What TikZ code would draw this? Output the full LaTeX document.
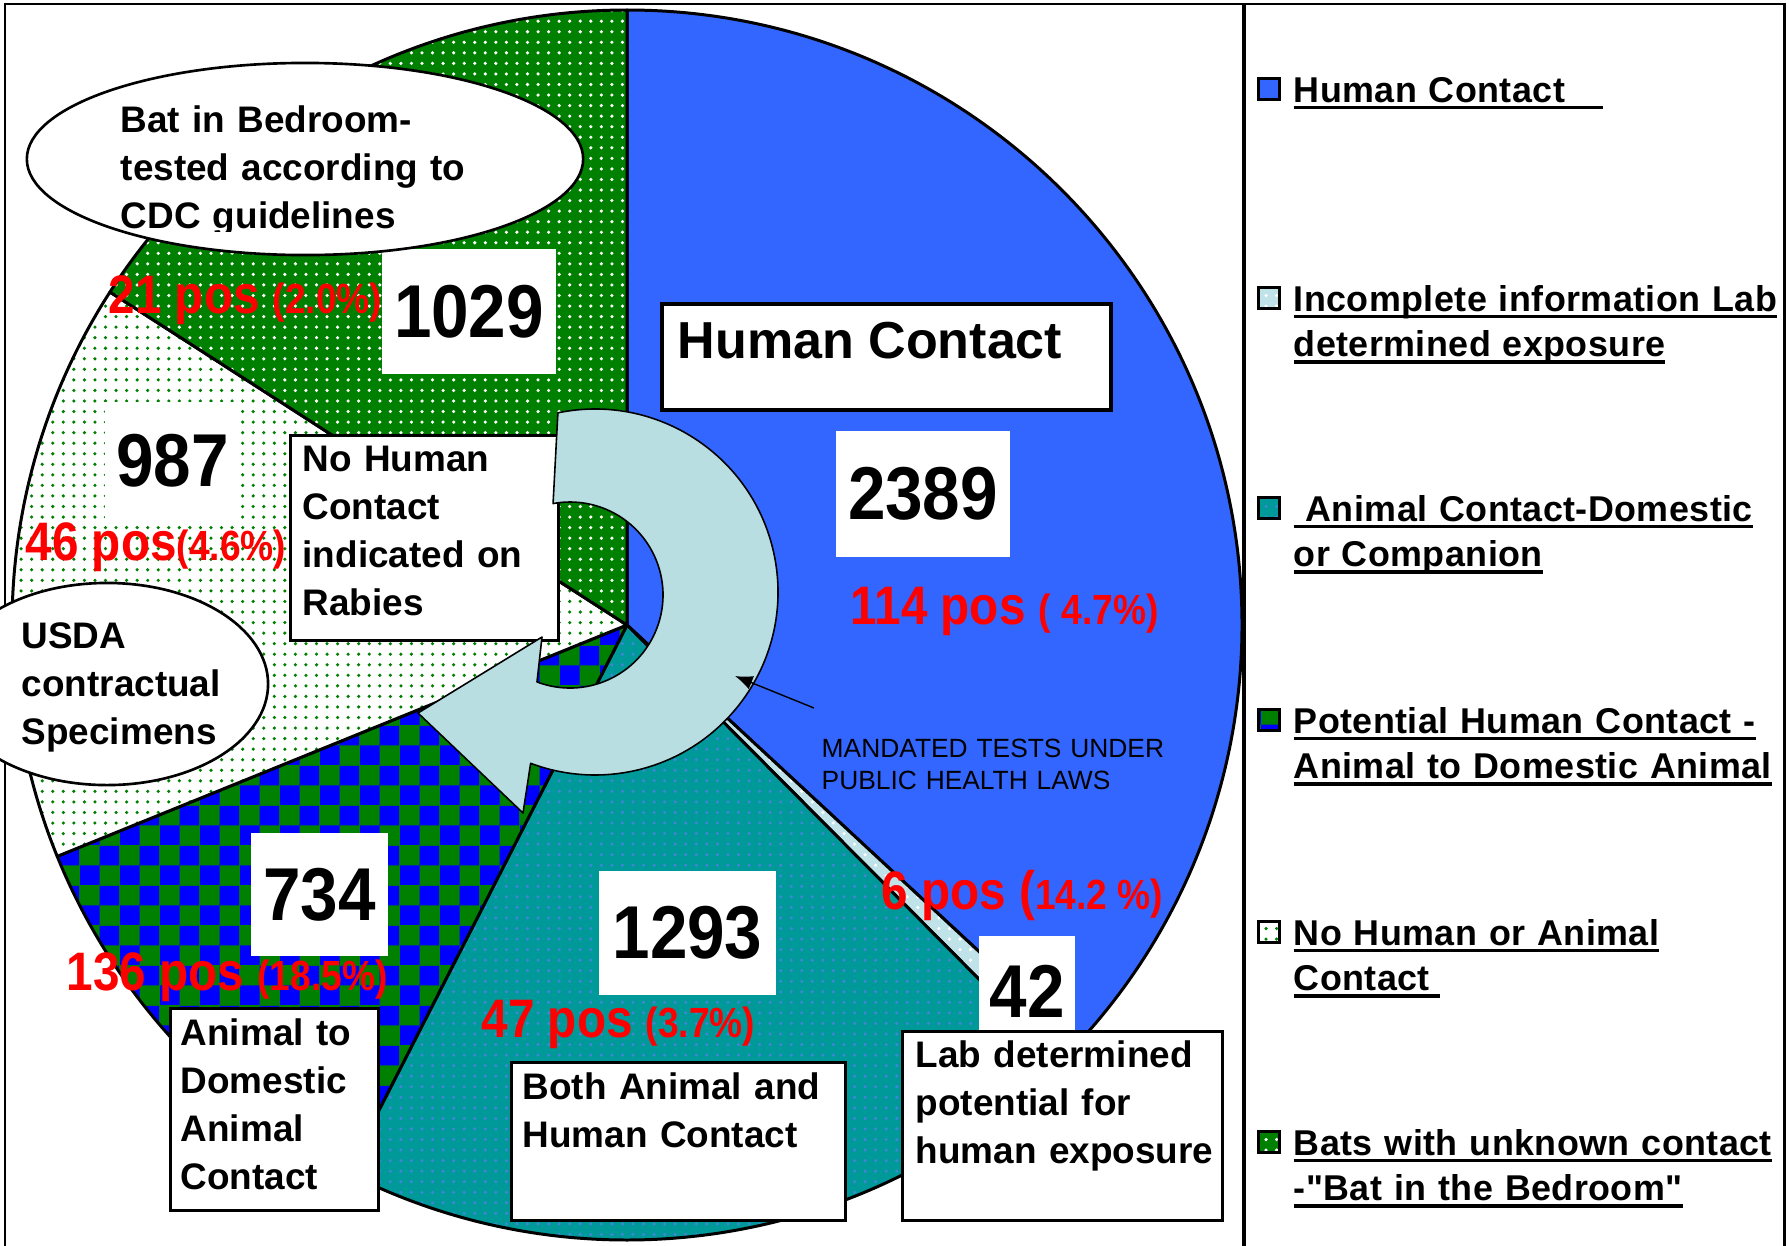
\documentclass[tikz,border=0pt]{standalone}
\usepackage{fontspec}
\setmainfont{Liberation Sans}
\newfontfamily\numfont[FakeStretch=0.9]{Liberation Sans}
\newfontfamily\redfont[FakeStretch=0.88]{Liberation Sans}
\newfontfamily\legfont[LetterSpace=1.2]{Liberation Sans}
\usetikzlibrary{positioning,shapes.geometric,patterns,arrows.meta,calc}
\definecolor{humblue}{HTML}{3366FF}
\definecolor{batgreen}{HTML}{008000}
\definecolor{chkblue}{HTML}{0000FF}
\definecolor{animteal}{HTML}{009999}
\definecolor{incblue}{HTML}{BFE3E8}
\definecolor{arrowblue}{HTML}{B9DEE2}
\definecolor{dotblue}{HTML}{3F86D6}
\newcommand{\numsize}{\fontsize{21.3}{25}\selectfont}
\newcommand{\redbig}{\fontsize{15.4}{18}\selectfont}
\newcommand{\redsmall}{\fontsize{12}{14}\selectfont}
\newcommand{\boxsize}{\fontsize{10.5}{13.7}\selectfont}
\newcommand{\legsize}{\fontsize{10.2}{12.95}\selectfont}
\newsavebox{\legbx}
\newcommand{\legul}[2][0pt]{\leavevmode\sbox{\legbx}{#2}\rlap{\rule[-2.1pt]{\dimexpr\wd\legbx+#1\relax}{1pt}}\usebox{\legbx}}

\begin{document}
\begin{tikzpicture}[x=0.01cm,y=0.01cm,
  pieline/.style={draw=black,line width=0.85pt,line join=round},
  humsl/.style={pieline,fill=humblue},
  incsl/.style={pieline,preaction={fill=incblue},pattern=dots,pattern color=white},
  animsl/.style={pieline,preaction={fill=animteal},pattern=dots,pattern color=dotblue},
  potsl/.style={pieline,preaction={fill=batgreen},pattern=checkerboard,pattern color=chkblue},
  nonesl/.style={pieline,preaction={fill=white},pattern=dots,pattern color=batgreen},
  batsl/.style={pieline,preaction={fill=batgreen},pattern=dots,pattern color=white},
  numbox/.style={fill=white,inner sep=0pt,font=\numfont\bfseries\numsize},
  textbox/.style={draw=black,fill=white,line width=0.85pt,inner sep=0pt,anchor=north west},
  boxtext/.style={inner sep=0pt,anchor=base west,align=left,text width=4cm,font=\bfseries\boxsize},
  oval/.style={ellipse,draw=black,fill=white,line width=0.75pt,inner sep=0pt},
  redlbl/.style={inner sep=0pt,anchor=base west,text=red,font=\redfont\bfseries\redbig},
  lgmark/.style={draw=black,line width=0.85pt,minimum size=0.21cm,inner sep=0pt},
  lgtext/.style={inner sep=0pt,anchor=base west,align=left,text width=5cm,font=\legfont\bfseries\legsize}]
\useasboundingbox (0,0) rectangle (1789,-1245);
\fill[white] (0,0) rectangle (1789,-1245);

\draw[line width=0.85pt] (5,-1260) -- (5,-4) -- (1784,-4) -- (1784,-1260);
\draw[line width=1.1pt] (1244,-4) -- (1244,-1260);

\coordinate (pc) at (627,-625);
\draw[humsl] (pc) -- ++(90:615) arc[start angle=90,end angle=-42.85,radius=615] -- cycle;
\draw[incsl] (pc) -- ++(-42.85:615) arc[start angle=-42.85,end angle=-45.18,radius=615] -- cycle;
\draw[animsl] (pc) -- ++(-45.18:615) arc[start angle=-45.18,end angle=-117.08,radius=615] -- cycle;
\draw[potsl] (pc) -- ++(-117.08:615) arc[start angle=-117.08,end angle=-157.9,radius=615] -- cycle;
\draw[nonesl] (pc) -- ++(-157.9:615) arc[start angle=-157.9,end angle=-212.78,radius=615] -- cycle;
\draw[batsl] (pc) -- ++(-212.78:615) arc[start angle=-212.78,end angle=-270,radius=615] -- cycle;

\node[numbox,minimum width=1.74cm,minimum height=1.25cm] (n1029) at (469,-311.5) {1029};
\node[numbox,minimum width=1.35cm,minimum height=1.17cm] (n987) at (172.5,-460.5) {987};
\node[numbox,minimum width=1.74cm,minimum height=1.26cm] (n2389) at (923,-494) {2389};
\node[numbox,minimum width=1.37cm,minimum height=1.23cm] (n734) at (319.5,-894.5) {734};
\node[numbox,minimum width=1.77cm,minimum height=1.24cm] (n1293) at (687.5,-933) {1293};
\node[numbox,minimum width=0.96cm,minimum height=1.10cm] (n42) at (1027,-991) {42};

\node[textbox,minimum width=4.49cm,minimum height=1.06cm,line width=1pt] (humbox) at (660,-302) {};
\node[inner sep=0pt,anchor=base west,font=\bfseries\fontsize{14.8}{17}\selectfont] (humtxt) at (677,-358) {Human Contact};
\node[textbox,minimum width=2.68cm,minimum height=2.05cm] (nohumbox) at (289,-434) {};
\node[boxtext] (nohum) at (302,-471) {No Human\\Contact\\indicated on\\Rabies};
\node[textbox,minimum width=2.08cm,minimum height=2.02cm] (animbox) at (169,-1007) {};
\node[boxtext] (animtxt) at (180,-1045) {Animal to\\Domestic\\Animal\\Contact};
\node[textbox,minimum width=3.34cm,minimum height=1.58cm] (bothbox) at (510,-1061) {};
\node[boxtext] (bothtxt) at (522,-1099) {Both Animal and\\Human Contact};
\node[textbox,minimum width=3.20cm,minimum height=1.89cm] (labbox) at (901,-1030) {};
\node[boxtext] (labtxt) at (915,-1067) {Lab determined\\potential for\\human exposure};

\node[oval,minimum width=5.56cm,minimum height=1.92cm] (batoval) at (305,-159) {};
\begin{scope}
\clip (0,0) rectangle (1244,-231);
\node[boxtext] (battxt) at (120,-132) {Bat in Bedroom-\\tested according to\\CDC guidelines};
\end{scope}
\node[oval,minimum width=3.22cm,minimum height=2.02cm] (usdaoval) at (107,-684) {};
\node[boxtext] (usdatxt) at (21,-648) {USDA\\contractual\\Specimens};

\coordinate (aout) at (595,-592);
\coordinate (ain) at (570,-595);
\draw[fill=arrowblue,line width=0.45pt,line join=round] ($(aout)+(101.7:183)$) arc[start angle=101.7,end angle=-110.6,radius=183] -- (523,-813) -- (418,-713) -- (542,-637) -- ($(ain)+(-110.8:93)$) arc[start angle=-110.8,end angle=100.5,radius=93] -- cycle;

\node[inner sep=0pt,anchor=base west,align=left,text width=4cm,font=\fontsize{7.5}{9.1}\selectfont] (mand) at (821,-757) {MANDATED TESTS UNDER\\PUBLIC HEALTH LAWS};
\coordinate (ptail) at (814,-708);
\coordinate (phead) at (735,-676);
\draw[-{Latex[length=5pt,width=4pt]},line width=0.4pt] (ptail) -- (phead);

\node[redlbl] (pos21) at (108,-313) {21 pos {\redsmall(2.0\%)}};
\node[redlbl] (pos46) at (25,-560) {46 pos{\redsmall(4.6\%)}};
\node[redlbl] (pos114) at (850,-624) {114 pos {\redsmall( 4.7\%)}};
\node[redlbl] (pos136) at (66,-990) {136 pos {\redsmall(18.5\%)}};
\node[redlbl] (pos47) at (481,-1037) {47 pos {\redsmall(3.7\%)}};
\node[redlbl] (pos6) at (881,-909) {6 pos ({\redsmall14.2 \%)}};

\node[lgmark,fill=humblue] (lg1) at (1269,-89) {};
\node[lgtext] (lt1) at (1293,-102) {\legul[10.8pt]{Human Contact}};
\node[lgmark,preaction={fill=incblue},pattern=dots,pattern color=white] (lg2) at (1269,-298) {};
\node[lgtext] (lt2) at (1293,-311) {\legul{Incomplete information Lab}\\\legul{determined exposure}};
\node[lgmark,preaction={fill=animteal},pattern=dots,pattern color=dotblue] (lg3) at (1269,-508) {};
\node[lgtext] (lt3) at (1293,-521) {\legul{\ Animal Contact-Domestic}\\\legul{or Companion}};
\node[lgmark,preaction={fill=batgreen},pattern=checkerboard,pattern color=chkblue] (lg4) at (1269,-720) {};
\node[lgtext] (lt4) at (1293,-733) {\legul{Potential Human Contact -}\\\legul{Animal to Domestic Animal}};
\node[lgmark,preaction={fill=white},pattern=dots,pattern color=batgreen] (lg5) at (1269,-932) {};
\node[lgtext] (lt5) at (1293,-945) {\legul{No Human or Animal}\\\legul[3pt]{Contact}};
\node[lgmark,preaction={fill=batgreen},pattern=dots,pattern color=white] (lg6) at (1269,-1142) {};
\node[lgtext] (lt6) at (1293,-1155) {\legul{Bats with unknown contact}\\\legul{-"Bat in the Bedroom"}};
\end{tikzpicture}
\end{document}
